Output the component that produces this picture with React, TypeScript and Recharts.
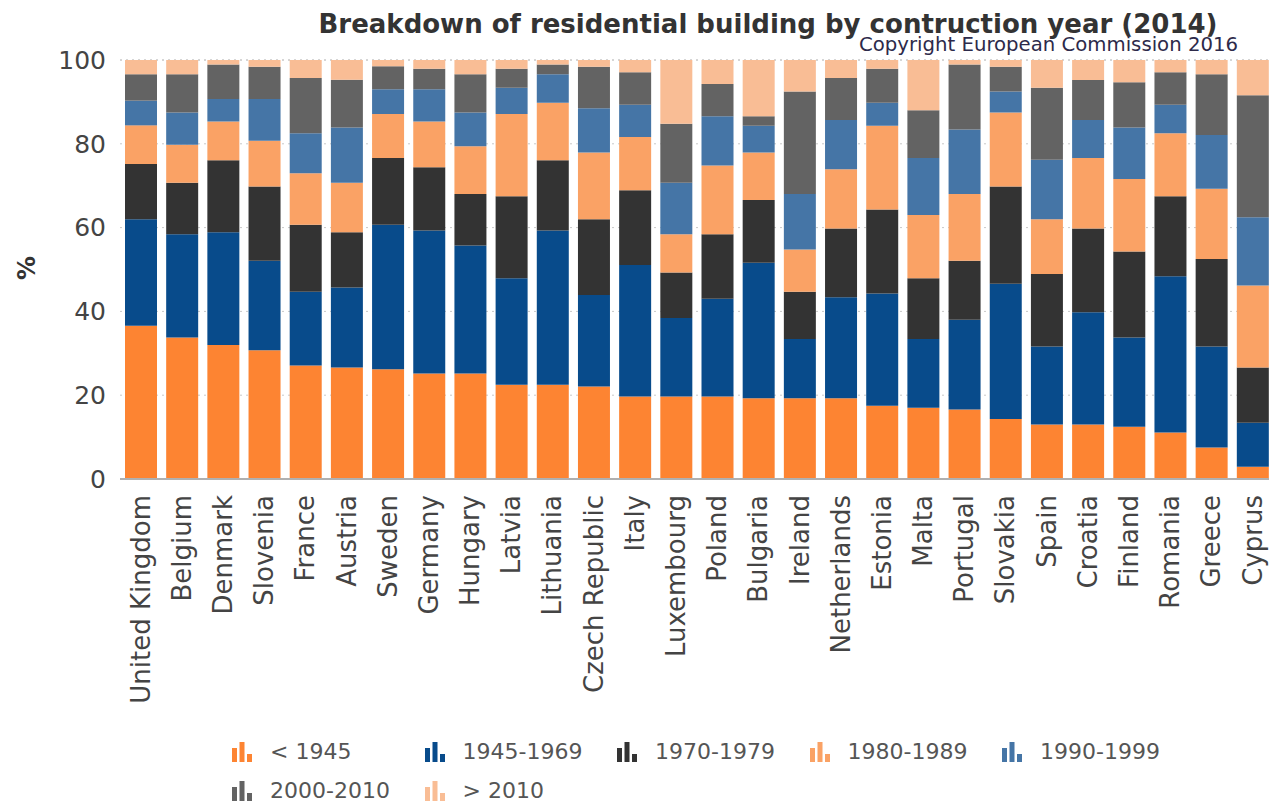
import { BarChart, Bar, XAxis, YAxis, CartesianGrid } from "recharts";

const countries = [
  "United Kingdom", "Belgium", "Denmark", "Slovenia", "France", "Austria", "Sweden",
  "Germany", "Hungary", "Latvia", "Lithuania", "Czech Republic", "Italy", "Luxembourg",
  "Poland", "Bulgaria", "Ireland", "Netherlands", "Estonia", "Malta", "Portugal",
  "Slovakia", "Spain", "Croatia", "Finland", "Romania", "Greece", "Cyprus",
];

// % of residential buildings per construction period
const before1945 = [36.6, 33.8, 32.0, 30.7, 27.1, 26.6, 26.2, 25.2, 25.2, 22.5, 22.5, 22.1, 19.7, 19.7, 19.7, 19.3, 19.3, 19.3, 17.5, 17.0, 16.6, 14.3, 13.0, 13.0, 12.5, 11.1, 7.5, 2.9];
const y1945to1969 = [25.4, 24.6, 26.9, 21.4, 17.6, 19.1, 34.5, 34.1, 30.5, 25.4, 36.8, 21.8, 31.4, 18.7, 23.3, 32.3, 14.1, 24.1, 26.8, 16.4, 21.4, 32.3, 18.6, 26.8, 21.3, 37.3, 24.1, 10.5];
const y1970to1979 = [13.2, 12.3, 17.2, 17.7, 16.0, 13.2, 15.9, 15.1, 12.3, 19.6, 16.8, 18.1, 17.8, 10.9, 15.4, 15.0, 11.3, 16.4, 20.0, 14.5, 14.1, 23.2, 17.3, 20.0, 20.5, 19.1, 20.9, 13.2];
const y1980to1989 = [9.2, 9.1, 9.2, 10.9, 12.3, 11.8, 10.5, 10.9, 11.4, 19.6, 13.7, 15.9, 12.7, 9.1, 16.4, 11.3, 10.1, 14.1, 20.0, 15.1, 15.9, 17.7, 13.1, 16.8, 17.3, 15.0, 16.8, 19.6];
const y1990to1999 = [5.9, 7.7, 5.4, 10.0, 9.5, 13.2, 5.9, 7.7, 8.1, 6.3, 6.8, 10.6, 7.7, 12.3, 11.8, 6.4, 13.2, 11.8, 5.5, 13.6, 15.4, 5.0, 14.2, 9.1, 12.3, 6.8, 12.8, 16.3];
const y2000to2010 = [6.3, 9.1, 8.2, 7.7, 13.2, 11.4, 5.5, 4.9, 9.1, 4.5, 2.3, 9.9, 7.8, 14.1, 7.7, 2.3, 24.5, 10.0, 8.1, 11.4, 15.5, 5.9, 17.2, 9.5, 10.8, 7.8, 14.5, 29.1];
const after2010 = [3.4, 3.4, 1.1, 1.6, 4.3, 4.7, 1.5, 2.1, 3.4, 2.1, 1.1, 1.6, 2.9, 15.2, 5.7, 13.4, 7.5, 4.3, 2.1, 12.0, 1.1, 1.6, 6.6, 4.8, 5.3, 2.9, 3.4, 8.4];

const yTicks = [0, 20, 40, 60, 80, 100];

const series = [
  { key: "p1", name: "< 1945", color: "#fd8432", values: before1945 },
  { key: "p2", name: "1945-1969", color: "#084b8b", values: y1945to1969 },
  { key: "p3", name: "1970-1979", color: "#333333", values: y1970to1979 },
  { key: "p4", name: "1980-1989", color: "#faa265", values: y1980to1989 },
  { key: "p5", name: "1990-1999", color: "#4575a6", values: y1990to1999 },
  { key: "p6", name: "2000-2010", color: "#636363", values: y2000to2010 },
  { key: "p7", name: "> 2010", color: "#f9bd95", values: after2010 },
];

const data = countries.map((country, i) => {
  const row: Record<string, string | number> = { country };
  series.forEach((s) => {
    row[s.key] = s.values[i];
  });
  return row;
});

const FONT = "'DejaVu Sans', Verdana, sans-serif";

function CountryTick(props: any) {
  const { x, y, payload } = props;
  const ty = y + 8;
  return (
    <text
      x={x}
      y={ty}
      transform={`rotate(-90 ${x} ${ty})`}
      textAnchor="end"
      dy="0.35em"
      fontSize={26}
      fontFamily={FONT}
      fill="#444"
    >
      {payload.value}
    </text>
  );
}

function LegendIcon({ color }: { color: string }) {
  return (
    <svg width={20} height={20} style={{ display: "block" }}>
      <rect x={0} y={6} width={5} height={14} fill={color} />
      <rect x={7.5} y={0} width={5} height={20} fill={color} />
      <rect x={15} y={12} width={5} height={8} fill={color} />
    </svg>
  );
}

export default function App() {
  return (
    <div
      style={{
        position: "fixed",
        left: 0,
        top: 0,
        width: 1269,
        height: 803,
        overflow: "hidden",
        background: "#fff",
      }}
    >
      <BarChart
        width={1280}
        height={803}
        data={data}
        margin={{ top: 60, right: 7, left: 0, bottom: 0 }}
        barSize={32}
      >
        <CartesianGrid
          vertical={false}
          stroke="#c8c8c8"
          strokeDasharray="2 4"
        />
        <XAxis
          dataKey="country"
          interval={0}
          height={324}
          tick={<CountryTick />}
          tickLine={false}
          axisLine={{ stroke: "#b0b0b0", strokeWidth: 2 }}
        />
        <YAxis
          width={120}
          domain={[0, 100]}
          ticks={yTicks}
          axisLine={false}
          tickLine={false}
          tickSize={6}
          tickMargin={8}
          tick={{ fontSize: 25, fill: "#444", fontFamily: FONT }}
        />
        {series.map((s) => (
          <Bar
            key={s.key}
            dataKey={s.key}
            name={s.name}
            stackId="a"
            fill={s.color}
            isAnimationActive={false}
          />
        ))}
      </BarChart>

      <div
        style={{
          position: "absolute",
          left: 768,
          top: 11,
          transform: "translateX(-50%)",
          whiteSpace: "nowrap",
          fontFamily: FONT,
          fontWeight: "bold",
          fontSize: 26,
          lineHeight: 1,
          color: "#333",
        }}
      >
        Breakdown of residential building by contruction year (2014)
      </div>
      <div
        style={{
          position: "absolute",
          right: 31,
          top: 35,
          whiteSpace: "nowrap",
          fontFamily: FONT,
          fontSize: 19.7,
          lineHeight: 1,
          color: "#2d2a4a",
        }}
      >
        Copyright European Commission 2016
      </div>
      <div
        style={{
          position: "absolute",
          left: 27,
          top: 268,
          transform: "translate(-50%, -50%) rotate(-90deg)",
          fontFamily: FONT,
          fontWeight: "bold",
          fontSize: 24,
          lineHeight: 1,
          color: "#333",
        }}
      >
        %
      </div>

      {series.map((s, i) => {
        const col = i % 5;
        const row = Math.floor(i / 5);
        return (
          <div
            key={s.key}
            style={{
              position: "absolute",
              left: 232 + col * 192.5,
              top: 742 + row * 39,
              display: "flex",
              alignItems: "flex-end",
              whiteSpace: "nowrap",
            }}
          >
            <LegendIcon color={s.color} />
            <span
              style={{
                marginLeft: 18,
                fontFamily: FONT,
                fontSize: 22,
                lineHeight: "20px",
                color: "#555",
              }}
            >
              {s.name}
            </span>
          </div>
        );
      })}
    </div>
  );
}
